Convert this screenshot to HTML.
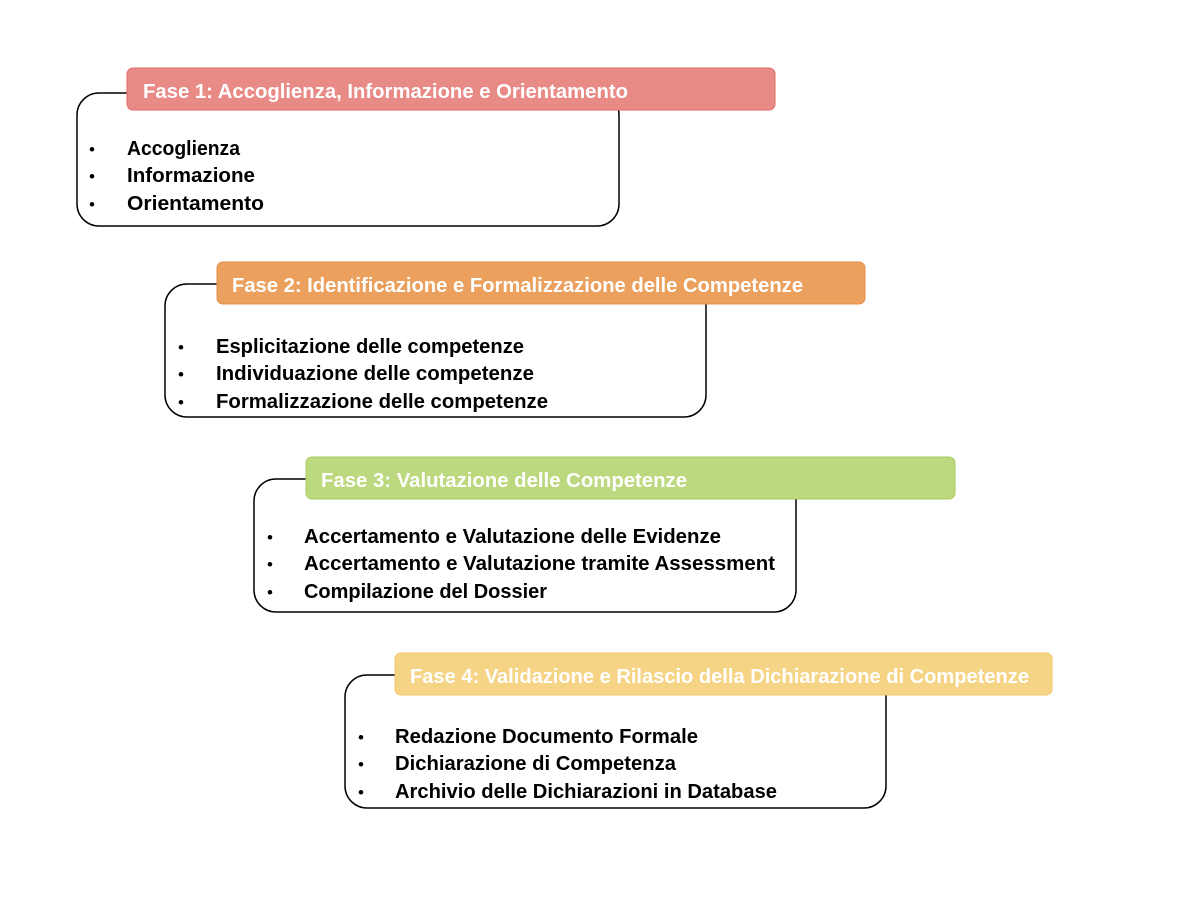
<!DOCTYPE html>
<html><head><meta charset="utf-8"><style>body{margin:0;background:#fff}svg{display:block}</style></head>
<body>
<svg width="1200" height="900" xmlns="http://www.w3.org/2000/svg" font-family="Liberation Sans, sans-serif" font-weight="bold">
<g stroke="#000" stroke-width="1.5" fill="#fff">
<rect x="77" y="93" width="542" height="133" rx="22"/>
<rect x="165" y="284" width="541" height="133" rx="22"/>
<rect x="254" y="479" width="542" height="133" rx="22"/>
<rect x="345" y="675" width="541" height="133" rx="22"/>
</g>
<rect x="127" y="68" width="648" height="42" rx="6" fill="#e88a86" stroke="#e06a66"/>
<rect x="217" y="262" width="648" height="42" rx="6" fill="#eba05e" stroke="#e59048"/>
<rect x="306" y="457" width="649" height="42" rx="6" fill="#bcd97f" stroke="#a9cc62"/>
<rect x="395" y="653" width="657" height="42" rx="6" fill="#f5d486" stroke="#f0c865"/>
<g fill="#fff" font-size="20">
<text x="143" y="98" textLength="485" lengthAdjust="spacingAndGlyphs">Fase 1: Accoglienza, Informazione e Orientamento</text>
<text x="232" y="292" textLength="571" lengthAdjust="spacingAndGlyphs">Fase 2: Identificazione e Formalizzazione delle Competenze</text>
<text x="321" y="487" textLength="366" lengthAdjust="spacingAndGlyphs">Fase 3: Valutazione delle Competenze</text>
<text x="410" y="683" textLength="619" lengthAdjust="spacingAndGlyphs">Fase 4: Validazione e Rilascio della Dichiarazione di Competenze</text>
</g>
<g fill="#000" font-size="20">
<text x="89" y="155" font-weight="normal" font-size="17">•</text><text x="127" y="155" textLength="113" lengthAdjust="spacingAndGlyphs">Accoglienza</text>
<text x="89" y="182" font-weight="normal" font-size="17">•</text><text x="127" y="182" textLength="128" lengthAdjust="spacingAndGlyphs">Informazione</text>
<text x="89" y="210" font-weight="normal" font-size="17">•</text><text x="127" y="210" textLength="137" lengthAdjust="spacingAndGlyphs">Orientamento</text>

<text x="178" y="353" font-weight="normal" font-size="17">•</text><text x="216" y="353" textLength="308" lengthAdjust="spacingAndGlyphs">Esplicitazione delle competenze</text>
<text x="178" y="380" font-weight="normal" font-size="17">•</text><text x="216" y="380" textLength="318" lengthAdjust="spacingAndGlyphs">Individuazione delle competenze</text>
<text x="178" y="408" font-weight="normal" font-size="17">•</text><text x="216" y="408" textLength="332" lengthAdjust="spacingAndGlyphs">Formalizzazione delle competenze</text>

<text x="267" y="543" font-weight="normal" font-size="17">•</text><text x="304" y="543" textLength="417" lengthAdjust="spacingAndGlyphs">Accertamento e Valutazione delle Evidenze</text>
<text x="267" y="570" font-weight="normal" font-size="17">•</text><text x="304" y="570" textLength="471" lengthAdjust="spacingAndGlyphs">Accertamento e Valutazione tramite Assessment</text>
<text x="267" y="598" font-weight="normal" font-size="17">•</text><text x="304" y="598" textLength="243" lengthAdjust="spacingAndGlyphs">Compilazione del Dossier</text>

<text x="358" y="743" font-weight="normal" font-size="17">•</text><text x="395" y="743" textLength="303" lengthAdjust="spacingAndGlyphs">Redazione Documento Formale</text>
<text x="358" y="770" font-weight="normal" font-size="17">•</text><text x="395" y="770" textLength="281" lengthAdjust="spacingAndGlyphs">Dichiarazione di Competenza</text>
<text x="358" y="798" font-weight="normal" font-size="17">•</text><text x="395" y="798" textLength="382" lengthAdjust="spacingAndGlyphs">Archivio delle Dichiarazioni in Database</text>
</g>
</svg>
</body></html>
